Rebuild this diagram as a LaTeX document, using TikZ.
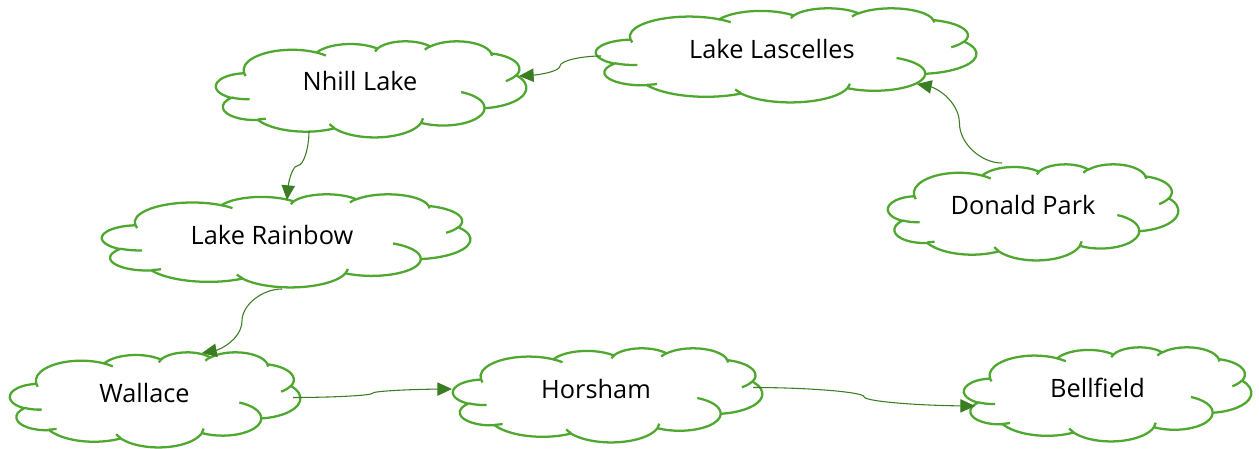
\documentclass[tikz,border=0pt]{standalone}
\usepackage{fontspec}
\setmainfont{Open Sans}
\usetikzlibrary{arrows.meta,bending}
\definecolor{cloudgreen}{HTML}{4EA72E}
\definecolor{conngreen}{HTML}{3A7D22}
% OOXML-style arc: wR hR (design units) start angle, sweep (visual degrees)
\newcommand\carc[4]{%
  \pgfextra{%
    \pgfmathsetmacro\crx{#1/432}%
    \pgfmathsetmacro\cry{#2/432}%
    \pgfmathsetmacro\cta{atan2(\crx*sin(#3),\cry*cos(#3))}%
    \pgfmathsetmacro\ctb{atan2(\crx*sin(#3+#4),\cry*cos(#3+#4))}%
    \pgfmathsetmacro\ctd{\ctb-\cta}%
    \pgfmathsetmacro\ctd{\ctd<0 ? \ctd+360 : \ctd}%
    \pgfmathsetmacro\ctb{\cta+\ctd}%
    \global\let\gcta\cta\global\let\gctb\ctb
    \global\let\gcrx\crx\global\let\gcry\cry}%
  arc[start angle=\gcta, end angle=\gctb, x radius=\gcrx, y radius=\gcry]}
\newcommand\drawcloud[4]{%
  \pgfmathsetmacro\cwx{(#3-#1)*0.0075}%
  \pgfmathsetmacro\cwy{(#4-#2)*0.0075}%
  \begin{scope}[shift={(#1,#2)},x=\cwx pt,y=-\cwy pt]
    \draw[cloudline,fill=white] (9.02778,33.26389)
      \carc{6753}{9190}{-190.487483}{123.780533}
      \carc{5333}{7267}{-144.102383}{89.945233}
      \carc{4365}{5945}{-145.807917}{99.723017}
      \carc{4857}{6595}{-130.986067}{117.241733}
      \carc{5333}{7273}{-78.708883}{109.026917}
      \carc{6775}{9220}{-46.26725}{130.269}
      \carc{5785}{7867}{0.625017}{114.033333}
      \carc{6752}{9215}{22.4516}{115.17255}
      \carc{7720}{10543}{66.242633}{75.711017}
      \carc{4360}{5918}{-274.942083}{146.735567}
      \carc{4345}{5945}{-246.8285}{152.51885}
      -- cycle;
    \draw[cloudline]
      (10.86343,60.59491) \carc{4345}{5945}{86.742}{26.4295}
      (16.03704,80.78472) \carc{4360}{5918}{73.61047}{11.44747}
      (38.14352,90.48611) \carc{6752}{9215}{137.62415}{14.0811}
      (66.72917,80.44213) \carc{6752}{9215}{6.45327}{15.99835}
      (79.00231,53.13426) \carc{5785}{7867}{-70.29235}{70.91737}
      (96.75463,35.54167) \carc{5333}{7273}{30.31803}{27.7515}
      (88.71296,12.56019) \carc{4857}{6595}{-13.74433}{14.8589}
      (67.31019,9.14815) \carc{4857}{6595}{-149.18145}{18.19537}
      (51.25231,10.92593) \carc{4365}{5945}{-163.49427}{17.68635}
      (32.40741,12.01852) \carc{6753}{9190}{-66.70695}{12.31935}
      (9.55324,36.54861) \carc{6753}{9190}{157.65435}{11.85817};
  \end{scope}}
\begin{document}
\begin{tikzpicture}[x=0.75pt,y=-0.75pt,
  cloudline/.style={draw=cloudgreen,line width=1.7pt,line join=round},
  lbl/.style={anchor=base,inner sep=0pt,font=\fontsize{19}{22}\selectfont,text=black},
  conn/.style={draw=conngreen,line width=0.8pt,-{Triangle[length=11pt,width=10pt]}}]
\useasboundingbox[fill=white] (0,0) rectangle (1259,449);
% clouds
\drawcloud{596}{8}{976}{102}
\drawcloud{216}{41}{526}{137}
\drawcloud{888}{164}{1178}{260}
\drawcloud{102}{194}{470}{287}
\drawcloud{10}{352}{300}{447}
\drawcloud{453}{348}{762}{442}
\drawcloud{964}{347}{1251}{441}
% labels
\node[lbl] (lascelles) at (772,59) {Lake Lascelles};
\node[lbl] (nhill) at (360,91) {Nhill Lake};
\node[lbl] (donald) at (1023,214) {Donald Park};
\node[lbl] (rainbow) at (272,244) {Lake Rainbow};
\node[lbl] (wallace) at (144.5,402) {Wallace};
\node[lbl] (horsham) at (596,398) {Horsham};
\node[lbl] (bellfield) at (1097.5,397) {Bellfield};
% connection sites
\coordinate (lascelles-w) at (601,56);
\coordinate (lascelles-s) at (917,84);
\coordinate (nhill-e) at (519,76);
\coordinate (nhill-s) at (309,131);
\coordinate (rainbow-n) at (287,200);
\coordinate (rainbow-s) at (282,289);
\coordinate (wallace-n) at (202,353);
\coordinate (wallace-e) at (293,397.5);
\coordinate (horsham-w) at (452,389);
\coordinate (horsham-e) at (753,387.5);
\coordinate (bellfield-w) at (975,406);
\coordinate (donald-n) at (1002,163);
% connectors
\draw[conn] (lascelles-w) .. controls (580.5,56) and (560,61) .. (560,66)
  .. controls (560,71) and (539.5,76) .. (nhill-e);
\draw[conn] (nhill-s) .. controls (309,148.25) and (303.5,165.5) .. (298,165.5)
  .. controls (292.5,165.5) and (287,182.75) .. (rainbow-n);
\draw[conn] (rainbow-s) .. controls (262,289) and (242,305) .. (242,321)
  .. controls (242,337) and (222,353) .. (wallace-n);
\draw[conn] (donald-n) .. controls (980.75,163) and (959.5,143.25) .. (959.5,123.5)
  .. controls (959.5,103.75) and (938.25,84) .. (lascelles-s);
\draw[conn] (wallace-e) .. controls (332.75,397.5) and (372.5,395.4) .. (372.5,393.25)
  .. controls (372.5,391.1) and (412.25,389) .. (horsham-w);
\draw[conn] (horsham-e) .. controls (808.5,387.5) and (864,392.1) .. (864,396.75)
  .. controls (864,401.4) and (919.5,406) .. (bellfield-w);
\end{tikzpicture}
\end{document}
